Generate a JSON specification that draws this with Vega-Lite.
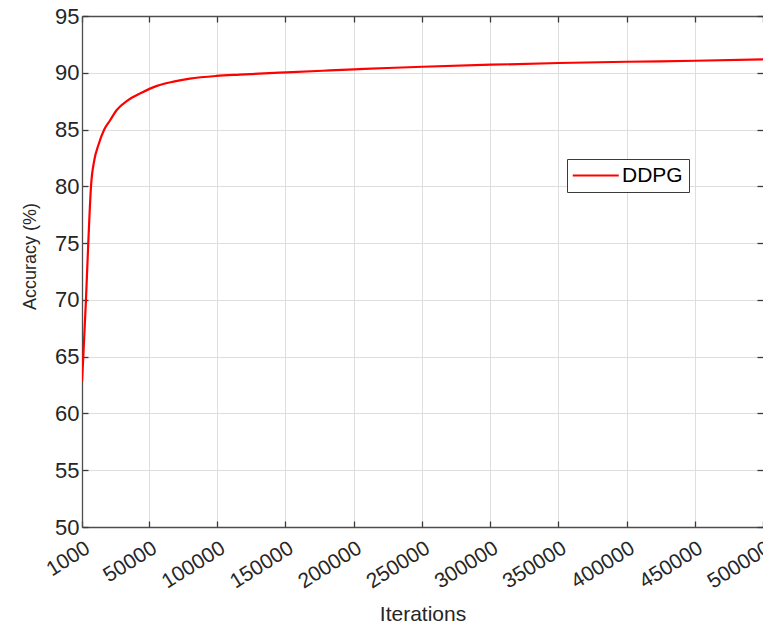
{
  "$schema": "https://vega.github.io/schema/vega-lite/v6.json",
  "width": 681,
  "height": 511,
  "autosize": {"type": "none"},
  "padding": {"left": 82, "top": 16, "right": 0, "bottom": 99},
  "background": "white",
  "config": {
    "font": "Liberation Sans",
    "view": {"stroke": null},
    "axis": {
      "domainColor": "#4d4d4d",
      "domainWidth": 1.3,
      "tickColor": "#3a3a3a",
      "tickWidth": 1.3,
      "tickSize": -6,
      "gridColor": "#dedede",
      "gridWidth": 1,
      "labelColor": "#262626",
      "labelFontSize": 21,
      "labelFont": "Liberation Sans",
      "titleColor": "#262626",
      "titleFontWeight": "normal",
      "titleFont": "Liberation Sans"
    },
    "legend": {
      "labelFont": "Liberation Sans"
    }
  },
  "data": {
    "values": [
      {"iter": 1000, "acc": 62.8, "series": "DDPG"},
      {"iter": 1950, "acc": 65.0, "series": "DDPG"},
      {"iter": 3900, "acc": 70.0, "series": "DDPG"},
      {"iter": 5600, "acc": 75.0, "series": "DDPG"},
      {"iter": 7600, "acc": 80.0, "series": "DDPG"},
      {"iter": 10000, "acc": 82.3, "series": "DDPG"},
      {"iter": 12900, "acc": 83.6, "series": "DDPG"},
      {"iter": 17300, "acc": 85.0, "series": "DDPG"},
      {"iter": 21500, "acc": 85.8, "series": "DDPG"},
      {"iter": 26300, "acc": 86.7, "series": "DDPG"},
      {"iter": 34800, "acc": 87.6, "series": "DDPG"},
      {"iter": 44600, "acc": 88.25, "series": "DDPG"},
      {"iter": 56000, "acc": 88.85, "series": "DDPG"},
      {"iter": 68000, "acc": 89.22, "series": "DDPG"},
      {"iter": 80000, "acc": 89.48, "series": "DDPG"},
      {"iter": 99500, "acc": 89.72, "series": "DDPG"},
      {"iter": 116500, "acc": 89.84, "series": "DDPG"},
      {"iter": 150600, "acc": 90.04, "series": "DDPG"},
      {"iter": 177400, "acc": 90.18, "series": "DDPG"},
      {"iter": 200600, "acc": 90.3, "series": "DDPG"},
      {"iter": 224900, "acc": 90.42, "series": "DDPG"},
      {"iter": 250500, "acc": 90.53, "series": "DDPG"},
      {"iter": 300500, "acc": 90.71, "series": "DDPG"},
      {"iter": 350400, "acc": 90.86, "series": "DDPG"},
      {"iter": 400300, "acc": 90.97, "series": "DDPG"},
      {"iter": 450300, "acc": 91.06, "series": "DDPG"},
      {"iter": 500000, "acc": 91.18, "series": "DDPG"}
    ]
  },
  "layer": [
    {
      "mark": {"type": "line", "color": "#ff0000", "strokeWidth": 2.2, "clip": true, "interpolate": "monotone"},
      "encoding": {
        "x": {
          "field": "iter",
          "type": "quantitative",
          "scale": {"domain": [1000, 500000], "nice": false, "zero": false},
          "axis": {
            "values": [1000, 50000, 100000, 150000, 200000, 250000, 300000, 350000, 400000, 450000, 500000],
            "format": "d",
            "title": "Iterations",
            "titleFontSize": 21,
            "titleBaseline": "alphabetic",
            "titleY": 93,
            "labelAngle": -32,
            "labelAlign": "right",
            "labelBaseline": "top",
            "labelPadding": 16,
            "labelFontSize": 21,
            "labelOverlap": false,
            "labelFlush": false,
            "grid": true
          }
        },
        "y": {
          "field": "acc",
          "type": "quantitative",
          "scale": {"domain": [50, 95], "nice": false, "zero": false},
          "axis": {
            "values": [50, 55, 60, 65, 70, 75, 80, 85, 90, 95],
            "title": "Accuracy (%)",
            "titleFontSize": 18,
            "titleAngle": -90,
            "titleAlign": "center",
            "titleBaseline": "alphabetic",
            "titleX": -47,
            "titleY": 240,
            "labelPadding": 9,
            "labelFontSize": 22,
            "labelOverlap": false,
            "labelFlush": false,
            "grid": true
          }
        },
        "color": {
          "field": "series",
          "type": "nominal",
          "scale": {"range": ["#ff0000"]},
          "legend": {
            "title": null,
            "orient": "none",
            "legendX": 485,
            "legendY": 143,
            "symbolType": "M-1.4,0H4.6",
            "symbolSize": 235,
            "symbolStrokeWidth": 2.2,
            "labelFontSize": 21,
            "labelColor": "#000000",
            "labelOffset": 28,
            "strokeColor": "#3a3a3a",
            "fillColor": "white",
            "padding": 6,
            "cornerRadius": 0
          }
        }
      }
    },
    {
      "mark": {"type": "line", "strokeOpacity": 0},
      "encoding": {
        "x": {
          "field": "iter",
          "type": "quantitative",
          "axis": {
            "orient": "top",
            "values": [1000, 50000, 100000, 150000, 200000, 250000, 300000, 350000, 400000, 450000, 500000],
            "labels": false,
            "title": null,
            "grid": false
          }
        },
        "y": {
          "field": "acc",
          "type": "quantitative",
          "axis": {
            "orient": "right",
            "values": [50, 55, 60, 65, 70, 75, 80, 85, 90, 95],
            "labels": false,
            "title": null,
            "grid": false,
            "domain": false
          }
        }
      }
    }
  ],
  "resolve": {"axis": {"x": "independent", "y": "independent"}}
}
